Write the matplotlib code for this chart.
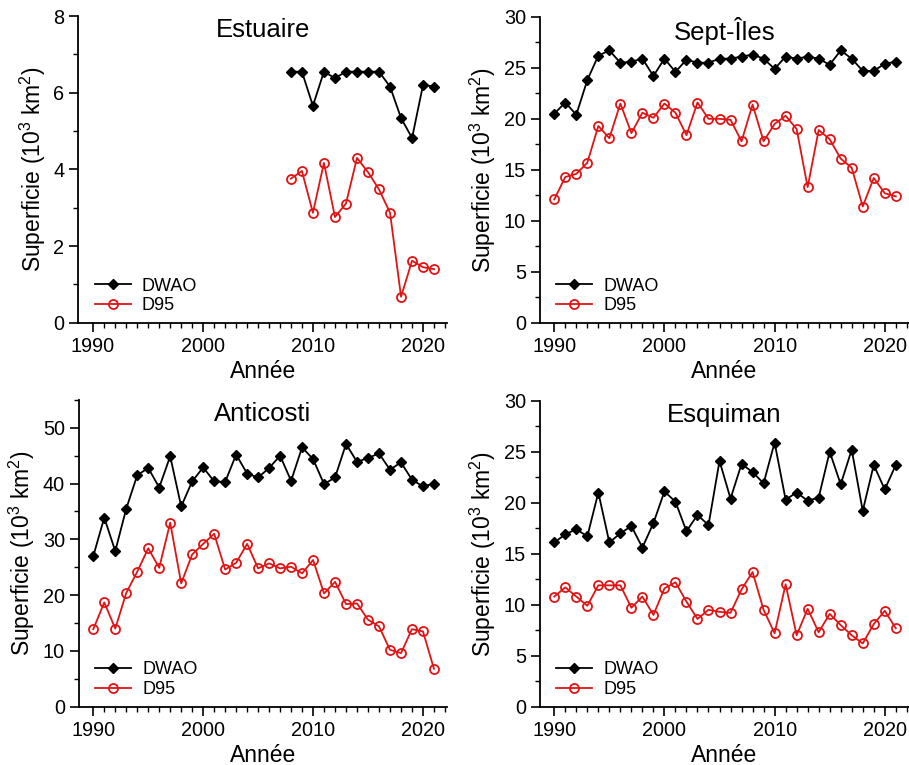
import matplotlib
matplotlib.use('Agg')
import matplotlib.pyplot as plt
from matplotlib.ticker import MultipleLocator, FixedLocator

plt.rcParams['font.family'] = ['Liberation Sans', 'DejaVu Sans']
plt.rcParams['mathtext.fontset'] = 'custom'
plt.rcParams['mathtext.rm'] = 'Liberation Sans'
plt.rcParams['mathtext.it'] = 'Liberation Sans:italic'
plt.rcParams['mathtext.bf'] = 'Liberation Sans:bold'

years = list(range(1990, 2022))
years_est = list(range(2008, 2022))

# Estuaire (2008-2021)
est_dwao = [6.55, 6.55, 5.66, 6.55, 6.38, 6.55, 6.55, 6.55, 6.55, 6.16, 5.34, 4.82, 6.21, 6.16]
est_d95 = [3.76, 3.96, 2.87, 4.17, 2.76, 3.11, 4.30, 3.93, 3.48, 2.87, 0.68, 1.62, 1.45, 1.40]

# Sept-Îles (1990-2021)
sept_dwao = [20.5, 21.6, 20.4, 23.8, 26.2, 26.7, 25.5, 25.6, 25.9, 24.2,
             25.9, 24.6, 25.8, 25.5, 25.5, 25.9, 25.9, 26.1, 26.3, 25.9,
             24.9, 26.1, 25.9, 26.1, 25.9, 25.3, 26.7, 25.9, 24.7, 24.7,
             25.4, 25.6]
sept_d95 = [12.1, 14.3, 14.6, 15.7, 19.3, 18.1, 21.5, 18.6, 20.6, 20.1,
            21.5, 20.6, 18.4, 21.6, 20.0, 20.0, 19.9, 17.8, 21.4, 17.8,
            19.5, 20.3, 19.0, 13.3, 18.9, 18.0, 16.1, 15.2, 11.4, 14.2,
            12.7, 12.4]

# Anticosti (1990-2021)
anti_dwao = [27.0, 33.9, 27.9, 35.5, 41.5, 42.8, 39.3, 44.9, 35.9, 40.4,
             42.9, 40.4, 40.3, 45.2, 41.8, 41.1, 42.8, 45.0, 40.5, 46.5,
             44.4, 39.9, 41.1, 47.1, 43.9, 44.6, 45.4, 42.5, 43.8, 40.7,
             39.5, 40.0]
anti_d95 = [13.9, 18.7, 14.0, 20.4, 24.2, 28.4, 24.9, 33.0, 22.1, 27.3,
            29.2, 31.0, 24.6, 25.8, 29.2, 24.8, 25.7, 24.8, 25.1, 23.9,
            26.3, 20.3, 22.4, 18.4, 18.5, 15.6, 14.4, 10.2, 9.6, 13.9,
            13.5, 6.8]

# Esquiman (1990-2021)
esq_dwao = [16.1, 16.9, 17.4, 16.7, 21.0, 16.1, 17.0, 17.7, 15.6, 18.0,
            21.1, 20.1, 17.2, 18.8, 17.8, 24.1, 20.4, 23.8, 23.0, 21.9,
            25.9, 20.3, 21.0, 20.2, 20.5, 25.0, 21.8, 25.2, 19.2, 23.7,
            21.3, 23.7]
esq_d95 = [10.8, 11.7, 10.8, 9.9, 11.9, 11.9, 11.9, 9.7, 10.8, 9.0,
           11.6, 12.2, 10.3, 8.6, 9.5, 9.3, 9.2, 11.5, 13.2, 9.5,
           7.2, 12.0, 7.0, 9.6, 7.3, 9.1, 8.0, 7.0, 6.2, 8.1,
           9.4, 7.7]

RED = '#e01414'

panels = [
    ('Estuaire', years_est, est_dwao, est_d95, 8, 2, 1, [0.0861, 0.578, 0.406, 0.401]),
    ('Sept-Îles', years, sept_dwao, sept_d95, 30, 5, 2.5, [0.594, 0.578, 0.406, 0.400]),
    ('Anticosti', years, anti_dwao, anti_d95, 55, 10, 5, [0.0869, 0.0762, 0.405, 0.401]),
    ('Esquiman', years, esq_dwao, esq_d95, 30, 5, 2.5, [0.594, 0.0762, 0.406, 0.400]),
]

fig = plt.figure(figsize=(9.09, 7.65), dpi=100)

for title, x, dwao, d95, ytop, ymaj, ymin, pos in panels:
    ax = fig.add_axes(pos)
    ax.plot(x, dwao, color='black', lw=1.3, marker='D', ms=5,
            mfc='black', mec='black', label='DWAO', clip_on=False)
    ax.plot(x, d95, color=RED, lw=1.3, marker='o', ms=6.5,
            mfc='none', mec=RED, mew=1.3, label='D95', clip_on=False)
    ax.set_xlim(1988.7, 2022.2)
    ax.set_ylim(0, ytop)
    ax.xaxis.set_major_locator(FixedLocator([1990, 2000, 2010, 2020]))
    ax.xaxis.set_minor_locator(FixedLocator(list(range(1990, 2023))))
    ax.yaxis.set_major_locator(MultipleLocator(ymaj))
    ax.yaxis.set_minor_locator(MultipleLocator(ymin))
    for s in ['top', 'right']:
        ax.spines[s].set_visible(False)
    for s in ['left', 'bottom']:
        ax.spines[s].set_linewidth(1.3)
    ax.tick_params(which='major', direction='out', length=6.5, width=1.2, labelsize=14.3, pad=3.5)
    ax.tick_params(which='minor', direction='out', length=3.5, width=1.0)
    ax.set_xlabel('Année', fontsize=16.5, labelpad=3)
    ax.set_ylabel(r'Superficie (10$^3$ km$^2$)', fontsize=16.5, labelpad=4)
    ax.text(0.5, 0.953, title, transform=ax.transAxes, ha='center', va='center', fontsize=18.5)
    ax.legend(loc='lower left', bbox_to_anchor=(0.0, -0.025), frameon=False,
              fontsize=13, handlelength=2.0, labelspacing=0.15, handletextpad=0.6)

fig.savefig('out.png', dpi=100)
